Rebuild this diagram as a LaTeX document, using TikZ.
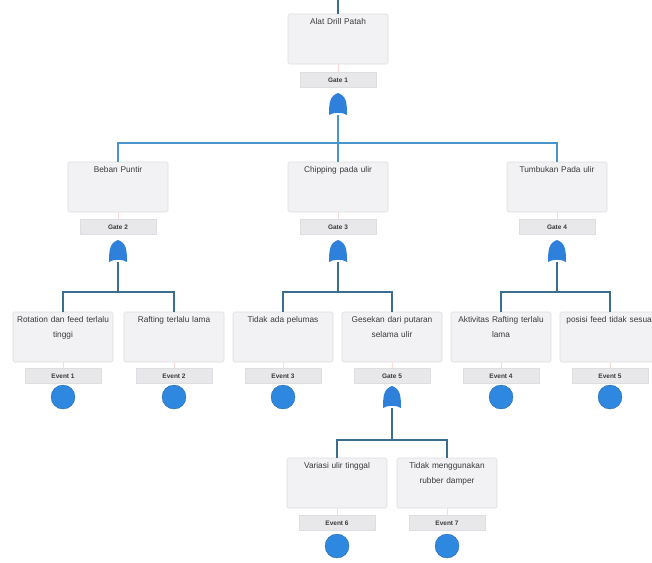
\documentclass[tikz,border=0pt]{standalone}
\usepackage{fontspec}
\setmainfont{Liberation Sans}
\begin{document}
\definecolor{boxfill}{HTML}{F2F2F4}
\definecolor{boxline}{HTML}{DDDDE2}
\definecolor{labfill}{HTML}{E8E8EB}
\definecolor{gateblue}{HTML}{2F80DA}
\definecolor{evblue}{HTML}{2F88E0}
\definecolor{treeline}{HTML}{3B6E8E}
\definecolor{topline}{HTML}{4A94CC}
\definecolor{txt}{HTML}{3A3A3A}
\begin{tikzpicture}[x=1pt,y=-1pt,
  boxtext/.style={font=\fontsize{8.3}{15}\selectfont, text=txt, align=center, text width=104pt, inner sep=0pt},
  evbox/.style={draw=boxline, line width=0.6pt, fill=boxfill, rounded corners=1.5pt, minimum width=100pt, minimum height=50pt, inner sep=0pt},
  labbox/.style={draw=boxline, line width=0.4pt, fill=labfill, minimum width=76pt, minimum height=15pt, inner sep=0pt, font=\fontsize{6.5}{7}\selectfont\bfseries, text=txt},
  gatept/.style={minimum width=18pt, minimum height=22pt, inner sep=0pt},
  basic/.style={fill=evblue, draw=evblue!70!black, line width=0.3pt, minimum width=22pt, minimum height=24pt, inner sep=0pt, circle},
  tree/.style={draw=treeline, line width=1.6pt},
  toptree/.style={draw=topline, line width=1.8pt},
  stub/.style={draw=pink!60, line width=0.5pt}]
\useasboundingbox (0,0) rectangle (652,562);

% OR gate symbol drawn around a named node
\newcommand{\orgate}[3]{%
  \node[gatept] (#1) at (#2,#3) {};
  \fill[gateblue] (#1.center) ++(-9,11)
    .. controls ++(0,-13) and ++(-8,3) .. ++(9,-22)
    .. controls ++(8,3) and ++(0,-13) .. ++(9,22)
    .. controls ++(-4,-3) and ++(4,-3) .. ++(-18,0) -- cycle;
}

% ---------------- top event ----------------
\node[evbox, label={[boxtext, anchor=north, yshift=-5pt]north:Alat Drill Patah}] (top) at (338,39) {};
\coordinate (entry) at (338,0);
\draw[tree, line width=1.2pt] (entry) -- (top.north);
\node[labbox] (l1) at (338,80) {Gate 1};
\draw[stub] (top.south) -- (l1.north);
\orgate{g1}{338}{104}

% ---------------- level 2 ----------------
\node[evbox, label={[boxtext, anchor=north, yshift=-5pt]north:Beban Puntir}] (a) at (118,187) {};
\node[evbox, label={[boxtext, anchor=north, yshift=-5pt]north:Chipping pada ulir}] (b) at (338,187) {};
\node[evbox, label={[boxtext, anchor=north, yshift=-5pt]north:Tumbukan Pada ulir}] (c) at (557,187) {};
\coordinate (j1) at (338,143);
\draw[toptree] (g1.south) -- (j1);
\draw[toptree] (j1) -| (a.north);
\draw[toptree] (j1) -| (c.north);
\draw[toptree] (j1) -- (b.north);

\node[labbox] (la) at (118,227) {Gate 2};
\node[labbox] (lb) at (338,227) {Gate 3};
\node[labbox] (lc) at (557,227) {Gate 4};
\draw[stub] (a.south) -- (la.north);
\draw[stub] (b.south) -- (lb.north);
\draw[stub] (c.south) -- (lc.north);
\orgate{g2}{118}{251}
\orgate{g3}{338}{251}
\orgate{g4}{557}{251}

% ---------------- level 3 ----------------
\node[evbox, label={[boxtext, anchor=north, yshift=-5pt]north:Rotation dan feed terlalu\\tinggi}] (a1) at (63,337) {};
\node[evbox, label={[boxtext, anchor=north, yshift=-5pt]north:Rafting terlalu lama}] (a2) at (174,337) {};
\node[evbox, label={[boxtext, anchor=north, yshift=-5pt]north:Tidak ada pelumas}] (b1) at (283,337) {};
\node[evbox, label={[boxtext, anchor=north, yshift=-5pt]north:Gesekan dari putaran\\selama ulir}] (b2) at (392,337) {};
\node[evbox, label={[boxtext, anchor=north, yshift=-5pt]north:Aktivitas Rafting terlalu\\lama}] (c1) at (501,337) {};
\node[evbox, label={[boxtext, anchor=north, yshift=-5pt]north:posisi feed tidak sesuai}] (c2) at (610,337) {};

\coordinate (j2) at (118,292);
\coordinate (j3) at (338,292);
\coordinate (j4) at (557,292);
\draw[tree] (g2.south) -- (j2);
\draw[tree] (g3.south) -- (j3);
\draw[tree] (g4.south) -- (j4);
\draw[tree] (j2) -| (a1.north);
\draw[tree] (j2) -| (a2.north);
\draw[tree] (j3) -| (b1.north);
\draw[tree] (j3) -| (b2.north);
\draw[tree] (j4) -| (c1.north);
\draw[tree] (j4) -| (c2.north);

\node[labbox] (la1) at (63,376) {Event 1};
\node[labbox] (la2) at (174,376) {Event 2};
\node[labbox] (lb1) at (283,376) {Event 3};
\node[labbox] (lb2) at (392,376) {Gate 5};
\node[labbox] (lc1) at (501,376) {Event 4};
\node[labbox] (lc2) at (610,376) {Event 5};
\foreach \n in {a1,a2,b1,b2,c1,c2} { \draw[stub] (\n.south) -- (l\n.north); }

\node[basic] (e1) at (63,397) {};
\node[basic] (e2) at (174,397) {};
\node[basic] (e3) at (283,397) {};
\orgate{g5}{392}{397}
\node[basic] (e4) at (501,397) {};
\node[basic] (e5) at (610,397) {};

% ---------------- level 4 ----------------
\node[evbox, label={[boxtext, anchor=north, yshift=-5pt]north:Variasi ulir tinggal}] (d1) at (337,483) {};
\node[evbox, label={[boxtext, anchor=north, yshift=-5pt]north:Tidak menggunakan\\rubber damper}] (d2) at (447,483) {};
\coordinate (j5) at (392,440);
\draw[tree] (g5.south) -- (j5);
\draw[tree] (j5) -| (d1.north);
\draw[tree] (j5) -| (d2.north);

\node[labbox] (ld1) at (337,523) {Event 6};
\node[labbox] (ld2) at (447,523) {Event 7};
\draw[stub] (d1.south) -- (ld1.north);
\draw[stub] (d2.south) -- (ld2.north);
\node[basic] (e6) at (337,546) {};
\node[basic] (e7) at (447,546) {};
\end{tikzpicture}
\end{document}
